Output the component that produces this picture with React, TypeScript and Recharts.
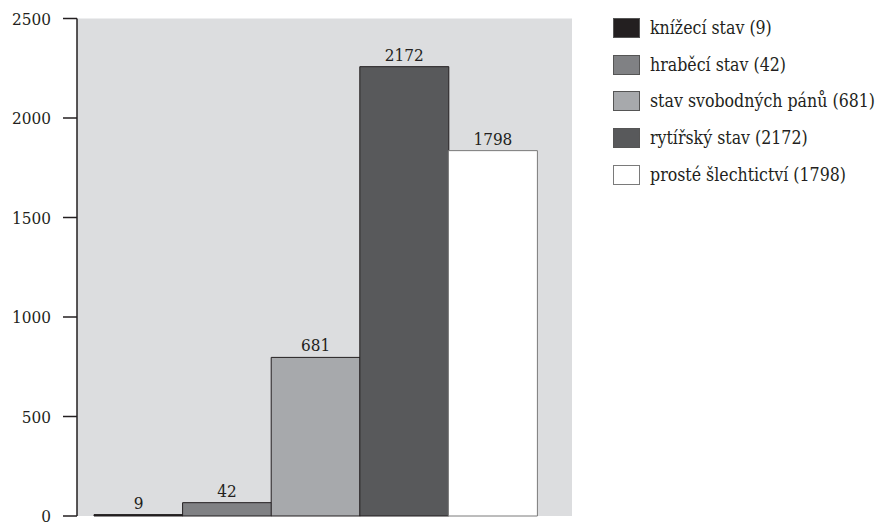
import { Bar, BarChart, CartesianGrid, Cell, LabelList, XAxis, YAxis } from "recharts";

const categories = [
  "knížecí stav",
  "hraběcí stav",
  "stav svobodných pánů",
  "rytířský stav",
  "prosté šlechtictví",
];
// printed counts (labels and legend)
const counts = [9, 42, 681, 2172, 1798];
// the bars in the source are drawn taller than their printed counts
const drawnHeights = [7, 67, 797, 2258, 1836];
const yTicks = [0, 500, 1000, 1500, 2000, 2500];

const COLORS = ["#231f20", "#808184", "#a7a9ac", "#58595b", "#ffffff"];
const STROKES = ["#231f20", "#231f20", "#231f20", "#231f20", "#7a7a7a"];

const FONT = "'DejaVu Serif Condensed', 'DejaVu Serif', serif";
const FS = 17;
const INK = "#231f20";
const TEXT_STYLE = { fontFamily: FONT, fontStretch: "condensed" };

const data = categories.map((name, i) => ({
  name,
  value: drawnHeights[i],
  count: counts[i],
}));

const renderLabel = (props: any) => {
  const { x, y, width, index } = props;
  return (
    <text
      x={Number(x) + Number(width) / 2}
      y={Number(y) - 6}
      textAnchor="middle"
      fill={INK}
      fontSize={FS}
      style={TEXT_STYLE}
    >
      {counts[index]}
    </text>
  );
};

const App = () => {
  return (
    <div
      style={{
        position: "absolute",
        left: 0,
        top: 0,
        width: 877,
        height: 530,
        ...TEXT_STYLE,
      }}
    >
      <BarChart
        width={877}
        height={530}
        data={data}
        margin={{ top: 18.5, right: 305, bottom: 0, left: 0 }}
        barCategoryGap={0}
        style={TEXT_STYLE}
      >
        <CartesianGrid
          xAxisId="edge"
          fill="#dcdddf"
          horizontal={false}
          vertical={false}
        />
        <XAxis
          xAxisId="cat"
          dataKey="name"
          hide
          padding={{ left: 17, right: 35 }}
        />
        <XAxis
          xAxisId="edge"
          type="number"
          domain={[0, 1]}
          ticks={[0, 1]}
          tickSize={14}
          height={14}
          tickFormatter={() => ""}
          axisLine={{ stroke: INK, strokeWidth: 1.5 }}
          tickLine={{ stroke: INK, strokeWidth: 1.5 }}
        />
        <YAxis
          domain={[0, 2500]}
          ticks={yTicks}
          width={77}
          tickSize={14}
          tickMargin={12}
          axisLine={{ stroke: INK, strokeWidth: 1.5 }}
          tickLine={{ stroke: INK, strokeWidth: 1.5 }}
          tick={{ fill: INK, fontSize: FS, style: TEXT_STYLE }}
        />
        <Bar xAxisId="cat" dataKey="value" isAnimationActive={false}>
          {data.map((_, index) => (
            <Cell
              key={`cell-${index}`}
              fill={COLORS[index]}
              stroke={STROKES[index]}
              strokeWidth={1}
            />
          ))}
          <LabelList dataKey="count" content={renderLabel} />
        </Bar>
      </BarChart>
      <div
        style={{
          position: "absolute",
          left: 613,
          top: 10,
          ...TEXT_STYLE,
          fontSize: 17.6,
          color: INK,
          whiteSpace: "nowrap",
        }}
      >
        {categories.map((name, i) => (
          <div
            key={name}
            style={{ display: "flex", alignItems: "center", height: 36.6 }}
          >
            <span
              style={{
                display: "inline-block",
                width: 25,
                height: 18,
                background: COLORS[i],
                border: `1px solid ${i === 4 ? "#7a7a7a" : "#555"}`,
                marginRight: 10,
              }}
            />
            <span>{`${name} (${counts[i]})`}</span>
          </div>
        ))}
      </div>
    </div>
  );
};

export default App;
